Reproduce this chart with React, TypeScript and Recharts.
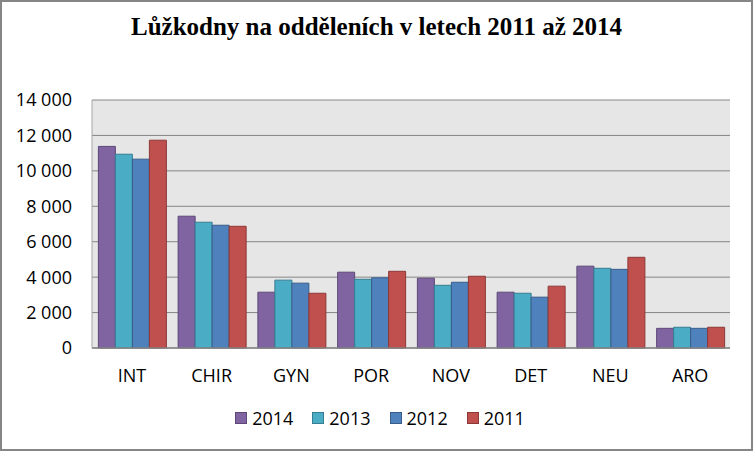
import React from 'react';
import { BarChart, Bar, XAxis, YAxis, CartesianGrid, Legend } from 'recharts';

const categories = ['INT', 'CHIR', 'GYN', 'POR', 'NOV', 'DET', 'NEU', 'ARO'];
const values2014 = [11380, 7440, 3150, 4280, 3940, 3150, 4620, 1110];
const values2013 = [10940, 7100, 3830, 3880, 3540, 3090, 4500, 1170];
const values2012 = [10660, 6930, 3660, 3960, 3710, 2870, 4440, 1110];
const values2011 = [11730, 6870, 3090, 4330, 4050, 3490, 5120, 1170];
const yTicks = [0, 2000, 4000, 6000, 8000, 10000, 12000, 14000];

const series = [
    { key: 'y2014', name: '2014', fill: '#8064A2', stroke: '#5C4776' },
    { key: 'y2013', name: '2013', fill: '#4BACC6', stroke: '#357D91' },
    { key: 'y2012', name: '2012', fill: '#4F81BD', stroke: '#385D8A' },
    { key: 'y2011', name: '2011', fill: '#C0504D', stroke: '#8C3836' },
];

const data = categories.map((name, i) => ({
    name,
    y2014: values2014[i],
    y2013: values2013[i],
    y2012: values2012[i],
    y2011: values2011[i],
}));

const font = '"Open Sans", sans-serif';

const formatTick = (v: number) =>
    v >= 1000 ? `${Math.floor(v / 1000)} ${String(v % 1000).padStart(3, '0')}` : String(v);

const LegendContent = () => (
    <div
        style={{
            display: 'flex',
            justifyContent: 'center',
            alignItems: 'center',
            paddingLeft: 7,
            fontFamily: font,
            fontSize: 18,
            color: '#000',
        }}
    >
        {series.map((s, i) => (
            <div key={s.key} style={{ display: 'flex', alignItems: 'center', marginLeft: i === 0 ? 0 : 19 }}>
                <div
                    style={{
                        width: 10,
                        height: 10,
                        background: s.fill,
                        border: `1px solid ${s.stroke}`,
                        marginRight: 5,
                    }}
                />
                <span>{s.name}</span>
            </div>
        ))}
    </div>
);

export default function App() {
    return (
        <div
            style={{
                position: 'absolute',
                left: 0,
                top: 0,
                width: 753,
                height: 451,
                boxSizing: 'border-box',
                border: '2px solid #868686',
                background: '#fff',
                overflow: 'hidden',
            }}
        >
            <div
                style={{
                    position: 'absolute',
                    left: -2,
                    top: 11,
                    width: 753,
                    textAlign: 'center',
                    fontFamily: '"Liberation Serif", serif',
                    fontWeight: 700,
                    fontSize: 25,
                    color: '#000',
                }}
            >
                Lůžkodny na odděleních v letech 2011 až 2014
            </div>
            <div style={{ position: 'absolute', left: -2, top: -2 }}>
                <BarChart
                    width={753}
                    height={451}
                    data={data}
                    margin={{ top: 100, right: 23, bottom: 73, left: 0 }}
                    barCategoryGap="8%"
                    barGap={0}
                >
                    <CartesianGrid
                        vertical={false}
                        stroke="#868686"
                        strokeWidth={1}
                        fill="#E6E6E6"
                    />
                    <XAxis
                        dataKey="name"
                        height={30}
                        tickLine={false}
                        tickMargin={15}
                        axisLine={{ stroke: '#868686', strokeWidth: 1.5 }}
                        tick={{ fill: '#000', fontSize: 18, fontFamily: font }}
                    />
                    <YAxis
                        width={92}
                        domain={[0, 14000]}
                        ticks={yTicks}
                        interval={0}
                        tickFormatter={formatTick}
                        tickLine={false}
                        tickMargin={14}
                        axisLine={{ stroke: '#A6A6A6' }}
                        tick={{ fill: '#000', fontSize: 18, fontFamily: font }}
                    />
                    <Legend
                        verticalAlign="middle"
                        align="center"
                        layout="horizontal"
                        content={<LegendContent />}
                        wrapperStyle={{ top: 406, left: 0, width: 753 }}
                    />
                    {series.map((s) => (
                        <Bar
                            key={s.key}
                            dataKey={s.key}
                            name={s.name}
                            fill={s.fill}
                            stroke={s.stroke}
                            strokeWidth={1}
                            isAnimationActive={false}
                        />
                    ))}
                </BarChart>
            </div>
        </div>
    );
}
